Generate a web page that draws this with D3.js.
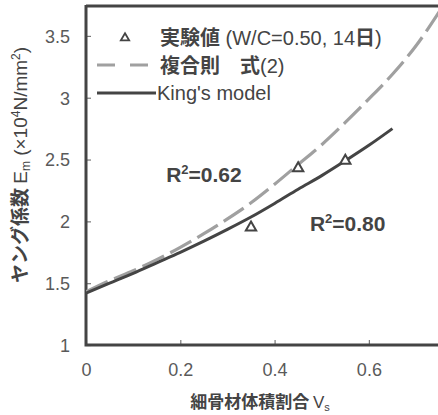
<!DOCTYPE html>
<html><head><meta charset="utf-8">
<script src="https://cdn.jsdelivr.net/npm/d3@7"></script>
<style>body{margin:0;background:#fff}svg{display:block}</style>
</head><body>
<script>
const xTicks = [0, 0.2, 0.4, 0.6];
const yTicks = [1, 1.5, 2, 2.5, 3, 3.5];
const yTickLabels = ["1", "1.5", "2", "2.5", "3", "3.5"];
const expX = [0.35, 0.45, 0.55];
const expY = [1.95, 2.43, 2.49];
const ruleX = [0, 0.05, 0.1, 0.15, 0.2, 0.25, 0.3, 0.35, 0.4, 0.45, 0.5, 0.55, 0.6, 0.65, 0.7, 0.75];
const ruleY = [1.43, 1.52, 1.60, 1.69, 1.79, 1.90, 2.02, 2.15, 2.30, 2.46, 2.62, 2.80, 2.99, 3.19, 3.42, 3.70];
const kingX = [0, 0.05, 0.1, 0.15, 0.2, 0.25, 0.3, 0.35, 0.4, 0.45, 0.5, 0.55, 0.6, 0.65];
const kingY = [1.42, 1.50, 1.58, 1.665, 1.75, 1.84, 1.935, 2.035, 2.145, 2.26, 2.37, 2.49, 2.615, 2.75];
// legend text pieces: [text, isCJK]
const legendParts = [
  [["実験値", true], [" (W/C=0.50, 14", false], ["日", true], [")", false]],
  [["複合則\u3000式", true], ["(2)", false]],
  [["King's model", false]]
];
const r2Labels = [{v:"0.62", x:0.17, y:2.32}, {v:"0.80", x:0.475, y:1.92}];

const W = 438, H = 415;
const svg = d3.select("body").append("svg").attr("width", W).attr("height", H);
const x = d3.scaleLinear().domain([0, 0.75]).range([86, 439.6]);
const y = d3.scaleLinear().domain([1, 3.75]).range([345, 5]);
const ink = "#444";
const font = "'Liberation Sans', Arial, 'Noto Sans CJK JP', sans-serif";
const cjk = "'Noto Sans CJK JP', sans-serif";

svg.append("clipPath").attr("id","c").append("rect")
  .attr("x", 86).attr("y", 5).attr("width", W - 86).attr("height", 340);

// axes
const yAxis = d3.axisLeft(y).tickValues(yTicks).tickFormat((d,i)=>yTickLabels[i]).tickSizeInner(-5).tickSizeOuter(0).tickPadding(16);
const gy = svg.append("g").attr("transform","translate(86,0)").call(yAxis);
const xAxis = d3.axisBottom(x).tickValues(xTicks).tickFormat(d3.format("")).tickSizeInner(-5).tickSizeOuter(0).tickPadding(18);
const gx = svg.append("g").attr("transform","translate(0,345)").call(xAxis);
[gx, gy].forEach(g => {
  g.select(".domain").remove();
  g.selectAll(".tick line").attr("stroke", "#777").attr("stroke-width", 1.2);
  g.selectAll(".tick text").attr("fill", "#5a5a5a").style("font-family", font).style("font-size", "18px");
});
gy.selectAll(".tick text").attr("dy", "0.35em");

// frame
svg.append("path").attr("d", `M${x(0)},${y(3.75)}V${y(1)}H${W}`).attr("fill","none").attr("stroke", ink).attr("stroke-width", 3);
svg.append("line").attr("x1", x(0)).attr("x2", W).attr("y1", y(3.75)+1).attr("y2", y(3.75)+1).attr("stroke", ink).attr("stroke-width", 3);

const line = d3.line().x(d=>x(d[0])).y(d=>y(d[1])).curve(d3.curveMonotoneX);
const plot = svg.append("g").attr("clip-path","url(#c)");
plot.append("path").datum(ruleX.map((v,i)=>[v, ruleY[i]])).attr("d", line)
  .attr("fill","none").attr("stroke","#a0a0a0").attr("stroke-width",3.2).attr("stroke-dasharray","24,7");
plot.append("path").datum(kingX.map((v,i)=>[v, kingY[i]])).attr("d", line)
  .attr("fill","none").attr("stroke", ink).attr("stroke-width",3);

const tri = d3.symbol().type(d3.symbolTriangle);
plot.selectAll(".m").data(expX.map((v,i)=>[v, expY[i]])).enter().append("path")
  .attr("d", tri.size(46)).attr("transform", d=>`translate(${x(d[0])},${y(d[1])})`)
  .attr("fill","#fff").attr("stroke", ink).attr("stroke-width", 2);

// legend
const lg = svg.append("g").style("font-family", font).style("font-size","20px").attr("fill", ink);
lg.append("path").attr("d", tri.size(30)).attr("transform","translate(125,38)").attr("fill","none").attr("stroke", ink).attr("stroke-width",1.8);
lg.append("line").attr("x1",97).attr("x2",152).attr("y1",65).attr("y2",65).attr("stroke","#a0a0a0").attr("stroke-width",3).attr("stroke-dasharray","18,15");
lg.append("line").attr("x1",97).attr("x2",156).attr("y1",93).attr("y2",93).attr("stroke",ink).attr("stroke-width",3);
const lx = [160, 160, 157], ly = [45, 73, 100];
legendParts.forEach((parts,i)=>{
  const tx = lg.append("text").attr("x", lx[i]).attr("y", ly[i]).attr("fill", ink);
  parts.forEach(([s, isCJK]) => {
    const sp = tx.append("tspan").text(s);
    if (isCJK) sp.style("font-family", cjk).style("font-weight","bold");
  });
});

// R2 labels
r2Labels.forEach(r=>{
  const t = svg.append("text").attr("x", x(r.x)).attr("y", y(r.y)).attr("fill", ink)
    .style("font-family", font).style("font-size","21px").style("font-weight","bold");
  t.append("tspan").text("R");
  t.append("tspan").attr("dy",-8).style("font-size","13px").text("2");
  t.append("tspan").attr("dy",8).text("=" + r.v);
});

// axis titles
const xt = svg.append("text").attr("x", 260).attr("y", 408).attr("text-anchor","middle").attr("fill", ink)
  .style("font-family", font).style("font-size","17px");
xt.append("tspan").style("font-family", cjk).style("font-weight","bold").text("細骨材体積割合 ");
xt.append("tspan").text("V");
xt.append("tspan").attr("dy",3).style("font-size","11px").text("s");

const yt = svg.append("text").attr("transform","translate(27,165) rotate(-90)").attr("text-anchor","middle").attr("fill", ink)
  .style("font-family", font).style("font-size","19px");
yt.append("tspan").style("font-family", cjk).style("font-weight","bold").text("ヤング係数 ");
yt.append("tspan").text("E");
yt.append("tspan").attr("dy",3).style("font-size","12px").text("m");
yt.append("tspan").attr("dy",-3).text(" (×10");
yt.append("tspan").attr("dy",-7).style("font-size","12px").text("4");
yt.append("tspan").attr("dy",7).text("N/mm");
yt.append("tspan").attr("dy",-7).style("font-size","12px").text("2");
yt.append("tspan").attr("dy",7).text(")");
</script>
</body></html>
